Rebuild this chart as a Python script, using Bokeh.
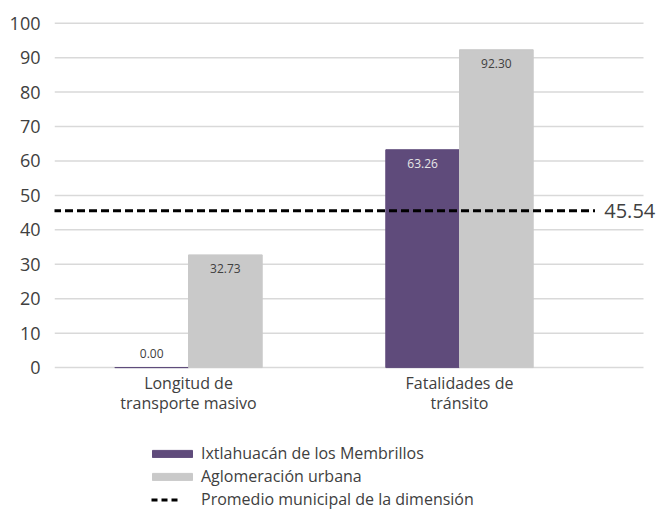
from bokeh.plotting import figure
from bokeh.models import (ColumnDataSource, Range1d, FixedTicker, Legend, LegendItem, Label)
from bokeh.core.properties import value
from bokeh.embed import file_html
from bokeh.resources import INLINE

# ---- data ----
categories = ["Longitud de\ntransporte masivo", "Fatalidades de\ntránsito"]
municipio_name = "Ixtlahuacán de los Membrillos"
aglomeracion_name = "Aglomeración urbana"
promedio_name = "Promedio municipal de la dimensión"
municipio = [0.00, 63.26]
aglomeracion = [32.73, 92.30]
promedio = 45.54
y_ticks = [0, 10, 20, 30, 40, 50, 60, 70, 80, 90, 100]

PURPLE = "#5f4b7b"
GRAY = "#c9c9c9"
TEXT = "#404040"
GRID = "#d9d9d9"
FONT = "Open Sans"
NAN = float("nan")

xs = [i + 0.5 for i in range(len(categories))]
bw = 0.272
X0, X1, XGRID = 0.0055, 2.2417, 2.179   # plot x range and extent of the gridlines

p = figure(width=660, height=510, output_backend="svg", toolbar_location=None,
           x_range=Range1d(X0, X1), y_range=Range1d(-41.5, 106.6),
           min_border_left=54, min_border_right=0, min_border_top=0,
           min_border_bottom=0)
p.outline_line_color = None
p.background_fill_color = "white"
p.border_fill_color = "white"
p.xaxis.visible = False
p.grid.visible = False

# gridlines (drawn as segments so they stop short of the value label)
p.segment(x0=[X0] * len(y_ticks), x1=[XGRID] * len(y_ticks), y0=y_ticks, y1=y_ticks,
          line_color=GRID, line_width=1.5)

src_m = ColumnDataSource(dict(x=[x - bw / 2 for x in xs], top=municipio))
src_a = ColumnDataSource(dict(x=[x + bw / 2 for x in xs], top=aglomeracion))
r_m = p.vbar(x="x", top="top", width=bw, source=src_m, fill_color=PURPLE, line_color=PURPLE, line_width=1)
r_a = p.vbar(x="x", top="top", width=bw, source=src_a, fill_color=GRAY, line_color=GRAY, line_width=1)

# average line across the category span
p.line(x=[0, len(categories)], y=[promedio, promedio], line_color="black",
       line_width=3, line_dash="8 4")
# legend-only line (no visible data)
r_leg_line = p.line(x=[NAN, NAN], y=[NAN, NAN], line_color="black", line_width=3,
                    line_dash="0 4 6 4 6 4 6 20")

lab = Label(x=len(categories) + 0.012, y=promedio, text=f"{promedio:.2f}", text_font=FONT,
            text_font_size="20px", text_color=TEXT, text_baseline="middle", text_align="left",
            background_fill_color="white", padding=6)
p.add_layout(lab)

# bar value labels
lx, ly, lt, lc, loff = [], [], [], [], []
for vals, off, col_in in ((municipio, -bw / 2, "#e6e6e6"), (aglomeracion, bw / 2, TEXT)):
    for x, v in zip(xs, vals):
        lx.append(x + off)
        ly.append(v)
        lt.append(f"{v:.2f}")
        inside = v > 8
        lc.append(col_in if inside else TEXT)
        loff.append(14 if inside else -14)
p.text(x="x", y="y", text="t", source=ColumnDataSource(dict(x=lx, y=ly, t=lt, c=lc, o=loff)),
       text_color="c", y_offset="o", text_align="center", text_baseline="middle",
       text_font=value(FONT), text_font_size="12px")

# category labels
p.text(x=xs, y=[0] * len(xs), text=categories, y_offset=4, text_align="center",
       text_baseline="top", text_font=value(FONT), text_font_size="16px",
       text_color=TEXT, text_line_height=0.95)

# y axis
p.yaxis.ticker = FixedTicker(ticks=y_ticks)
p.yaxis.axis_line_color = None
p.yaxis.major_tick_line_color = None
p.yaxis.minor_tick_line_color = None
p.yaxis.major_label_text_font = FONT
p.yaxis.major_label_text_font_size = "18px"
p.yaxis.major_label_text_color = TEXT
p.yaxis.major_label_standoff = 8

legend = Legend(items=[LegendItem(label=municipio_name, renderers=[r_m]),
                       LegendItem(label=aglomeracion_name, renderers=[r_a]),
                       LegendItem(label=promedio_name, renderers=[r_leg_line])],
                orientation="vertical", location=(93, 0), border_line_color=None,
                background_fill_alpha=0, padding=0, margin=0, spacing=1,
                glyph_width=50, glyph_height=9, label_height=20, label_standoff=4,
                label_text_font=FONT, label_text_font_size="16px", label_text_color=TEXT)
p.add_layout(legend)

open("out.html", "w").write(file_html(p, INLINE))
